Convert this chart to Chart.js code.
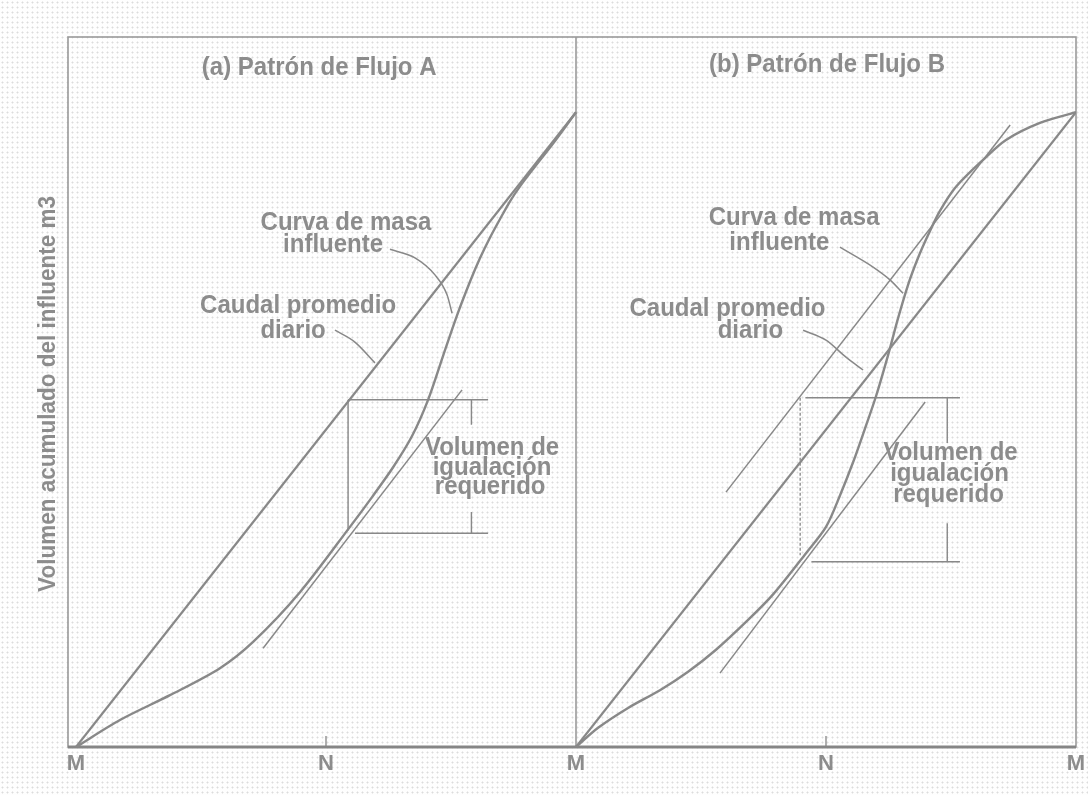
<!DOCTYPE html>
<html>
<head>
<meta charset="utf-8">
<script src="https://cdn.jsdelivr.net/npm/chart.js@4.4.1/dist/chart.umd.min.js"></script>
<style>
  html, body { margin:0; padding:0; width:1088px; height:795px; overflow:hidden;
    background-color:#fefefe;
    background-image: radial-gradient(circle, #dcdcdc 0.8px, rgba(255,255,255,0) 1.2px);
    background-size: 5px 5px; }
  #wrap { position:absolute; left:0; top:0; width:1088px; height:795px; }
</style>
</head>
<body>
<div id="wrap"><canvas id="c" width="1088" height="795"></canvas></div>
<script>
// ---- axis / category data (hours of day: M = midnight, N = noon) ----
const tickHours  = [0, 12, 24, 36, 48];
const tickLabels = ['M', 'N', 'M', 'N', 'M'];

// ---- Panel (a) Patrón de Flujo A ----
const avgAx   = [0, 24];
const avgAy   = [0, 89.4];
const curveAx = [0, 2.11, 4.51, 6.91, 8.50, 10.75, 13.15, 14.21, 15.22, 16.13, 16.90, 17.62, 18.29, 18.92, 19.40, 19.88, 20.36, 20.84, 21.32, 21.94, 23.00, 24];
const curveAy = [0, 3.8, 7.3, 11.1, 14.8, 21.8, 31.0, 35.2, 39.4, 43.8, 48.9, 55.1, 60.8, 65.6, 68.9, 71.8, 74.4, 76.9, 79.0, 81.4, 85.4, 89.4];
const tanAx   = [8.98, 18.53];
const tanAy   = [13.9, 50.3];

// ---- Panel (b) Patrón de Flujo B ----
const avgBx   = [24, 48];
const avgBy   = [0, 89.4];
const curveBx = [24, 25.06, 26.50, 28.03, 29.38, 30.72, 32.26, 33.46, 35.04, 36.00, 36.68, 37.30, 37.83, 38.40, 38.98, 39.46, 39.94, 40.42, 40.90, 41.47, 42.24, 43.54, 44.64, 46.27, 48];
const curveBy = [0, 2.7, 5.5, 8.0, 10.6, 13.7, 17.9, 21.5, 27.3, 31.0, 35.5, 40.1, 44.5, 49.4, 55.2, 60.4, 65.1, 68.9, 72.1, 75.5, 78.9, 82.7, 85.5, 87.9, 89.4];
const tanB1x  = [31.2, 44.84];
const tanB1y  = [35.9, 87.6];
const tanB2x  = [30.91, 40.76];
const tanB2y  = [10.4, 48.6];

// ---- equalization volume boxes ----
const boxAx   = [13.06, 19.78];
const boxAtop = [48.9];
const boxAbot = [30.1];
const boxAbotStart = [13.39];
const dimAx   = [18.98];
const dimAy   = [48.9, 45.4, 33.1, 30.1];

const boxBx   = [34.76, 42.43];
const boxBtop = [49.2];
const boxBbot = [26.1];
const boxBbotStart = [35.3];
const boxBvertEnd = [27.0];
const dimBx   = [41.82];
const dimBy   = [49.2, 42.8, 31.5, 26.1];

// ---- leader lines from labels ----
const leadA1x = [15.07, 16.27, 17.23, 17.81, 18.05];
const leadA1y = [70.1, 68.9, 66.5, 63.7, 61.1];
const leadA2x = [12.43, 13.40, 14.35];
const leadA2y = [58.7, 57.0, 54.1];
const leadB1x = [36.67, 38.26, 39.07, 39.70];
const leadB1y = [70.4, 67.6, 65.8, 63.9];
const leadB2x = [34.90, 36.00, 36.96, 37.78];
const leadB2y = [58.7, 57.3, 54.9, 53.1];

// ---- text labels ----
const yTitle = 'Volumen acumulado del influente m3';
const labelTexts = [
  '(a) Patrón de Flujo A', '(b) Patrón de Flujo B',
  'Curva de masa', 'influente', 'Caudal promedio', 'diario',
  'Volumen de', 'igualación', 'requerido',
  'Curva de masa', 'influente', 'Caudal promedio', 'diario',
  'Volumen de', 'igualación', 'requerido'
];
const labelX = [11.67, 36.05, 12.96, 12.34, 10.66, 10.42, 19.97, 19.97, 19.88, 34.47, 33.76, 31.27, 32.37, 41.98, 41.93, 41.88];
const labelY = [95.7, 96.1, 73.9, 70.7, 62.1, 58.6, 42.2, 39.4, 36.6, 74.5, 71.0, 61.7, 58.6, 41.4, 38.5, 35.5];

const GRAY = '#8c8c8c';
const LINE = '#888888';

function pts(xs, ys) { return xs.map((x, i) => ({x: x, y: ys[i]})); }
function seg(x1, y1, x2, y2) { return [{x: x1, y: y1}, {x: x2, y: y2}]; }

function ds(data, opts) {
  return Object.assign({
    data: data, borderColor: LINE, borderWidth: 2.2, pointRadius: 0,
    showLine: true, fill: false, tension: 0
  }, opts || {});
}

const datasets = [
  ds(pts(avgAx, avgAy)),
  ds(pts(curveAx, curveAy), {tension: 0.3, borderWidth: 2.4}),
  ds(pts(tanAx, tanAy), {borderWidth: 1.5}),
  ds(pts(avgBx, avgBy)),
  ds(pts(curveBx, curveBy), {tension: 0.3, borderWidth: 2.4}),
  ds(pts(tanB1x, tanB1y), {borderWidth: 1.5}),
  ds(pts(tanB2x, tanB2y), {borderWidth: 1.5}),
  ds(seg(boxAx[0], boxAtop[0], boxAx[1], boxAtop[0]), {borderWidth: 1.6}),
  ds(seg(boxAbotStart[0], boxAbot[0], boxAx[1], boxAbot[0]), {borderWidth: 1.6}),
  ds(seg(boxAx[0], boxAtop[0], boxAx[0], boxAbot[0] + 0.4), {borderWidth: 1.4}),
  ds(seg(dimAx[0], dimAy[0], dimAx[0], dimAy[1]), {borderWidth: 1.4}),
  ds(seg(dimAx[0], dimAy[2], dimAx[0], dimAy[3]), {borderWidth: 1.4}),
  ds(seg(boxBx[0] + 0.25, boxBtop[0], boxBx[1], boxBtop[0]), {borderWidth: 1.6}),
  ds(seg(boxBbotStart[0], boxBbot[0], boxBx[1], boxBbot[0]), {borderWidth: 1.6}),
  ds(seg(boxBx[0], boxBtop[0], boxBx[0], boxBvertEnd[0]), {borderWidth: 1.3, borderDash: [3, 2]}),
  ds(seg(dimBx[0], dimBy[0], dimBx[0], dimBy[1]), {borderWidth: 1.4}),
  ds(seg(dimBx[0], dimBy[2], dimBx[0], dimBy[3]), {borderWidth: 1.4}),
  ds(pts(leadA1x, leadA1y), {cubicInterpolationMode: 'monotone', borderWidth: 1.5}),
  ds(pts(leadA2x, leadA2y), {cubicInterpolationMode: 'monotone', borderWidth: 1.5}),
  ds(pts(leadB1x, leadB1y), {cubicInterpolationMode: 'monotone', borderWidth: 1.5}),
  ds(pts(leadB2x, leadB2y), {cubicInterpolationMode: 'monotone', borderWidth: 1.5})
];

const decor = {
  id: 'decor',
  beforeDatasetsDraw(chart) {
    const ctx = chart.ctx, a = chart.chartArea;
    const xs = chart.scales.x;
    ctx.save();
    ctx.strokeStyle = '#9a9a9a';
    ctx.lineWidth = 1.6;
    ctx.strokeRect(a.left, a.top, a.right - a.left, a.bottom - a.top);
    const xd = xs.getPixelForValue(tickHours[2]);
    ctx.beginPath(); ctx.moveTo(xd, a.top); ctx.lineTo(xd, a.bottom); ctx.stroke();
    ctx.strokeStyle = '#858585';
    ctx.lineWidth = 3;
    ctx.beginPath(); ctx.moveTo(a.left, a.bottom); ctx.lineTo(a.right, a.bottom); ctx.stroke();
    ctx.lineWidth = 1.3;
    [tickHours[1], tickHours[3]].forEach(h => {
      const px = xs.getPixelForValue(h);
      ctx.beginPath(); ctx.moveTo(px, a.bottom - 11); ctx.lineTo(px, a.bottom); ctx.stroke();
    });
    ctx.restore();
  },
  afterDraw(chart) {
    const ctx = chart.ctx, a = chart.chartArea;
    const xs = chart.scales.x, ys = chart.scales.y;
    ctx.save();
    ctx.fillStyle = GRAY;
    ctx.textAlign = 'center';
    ctx.textBaseline = 'middle';
    ctx.font = 'bold 24px "Liberation Sans", Arial, sans-serif';
    labelTexts.forEach((t, i) => {
      ctx.save();
      ctx.translate(xs.getPixelForValue(labelX[i]), ys.getPixelForValue(labelY[i]));
      ctx.scale(1, 1.1);
      ctx.fillText(t, 0, 0);
      ctx.restore();
    });
    ctx.font = 'bold 22.5px "Liberation Sans", Arial, sans-serif';
    ctx.translate(48, (a.top + a.bottom) / 2 + 2);
    ctx.rotate(-Math.PI / 2);
    ctx.scale(1, 1.1);
    ctx.fillText(yTitle, 0, 0);
    ctx.restore();
  }
};

new Chart(document.getElementById('c'), {
  type: 'scatter',
  data: { datasets: datasets },
  options: {
    responsive: false,
    animation: false,
    events: [],
    layout: { padding: { left: 68, right: 12, top: 37, bottom: 18 } },
    plugins: { legend: { display: false }, tooltip: { enabled: false } },
    scales: {
      x: {
        type: 'linear', min: -0.384, max: 48,
        afterBuildTicks: (s) => { s.ticks = tickHours.map(v => ({value: v})); },
        afterFit: (s) => { s.height = 30; s.paddingLeft = 0; s.paddingRight = 0; },
        ticks: {
          autoSkip: false, maxRotation: 0, padding: 4, color: GRAY,
          font: { family: '"Liberation Sans", Arial, sans-serif', size: 22, weight: 'bold' },
          callback: (v) => { const i = tickHours.indexOf(v); return i >= 0 ? tickLabels[i] : ''; }
        },
        grid: { display: false, drawTicks: false },
        border: { display: false }
      },
      y: { type: 'linear', min: 0, max: 100, display: false }
    }
  },
  plugins: [decor]
});
</script>
</body>
</html>
